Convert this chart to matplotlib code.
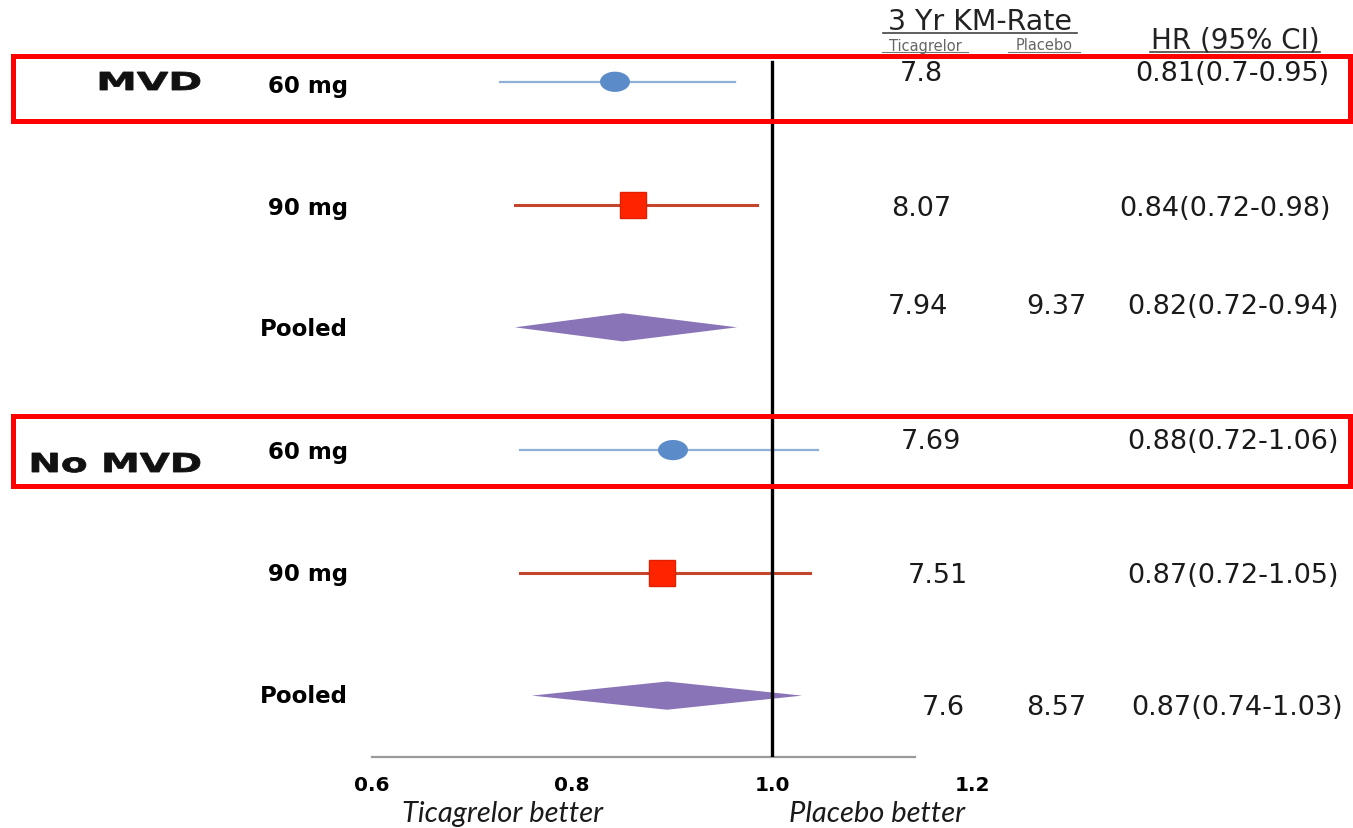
import matplotlib
matplotlib.use("Agg")
import matplotlib.pyplot as plt
from matplotlib.patches import Ellipse, Polygon, Rectangle, PathPatch
from matplotlib.lines import Line2D
from matplotlib.textpath import TextPath
from matplotlib.font_manager import FontProperties
from matplotlib.transforms import Affine2D, IdentityTransform

plt.rcParams["font.family"] = ["DejaVu Sans"]

# --- DATA ---
groups = ["MVD", "No MVD"]
doses = ["60 mg", "90 mg", "Pooled", "60 mg", "90 mg", "Pooled"]
kinds = ["60", "90", "pooled", "60", "90", "pooled"]
# marker positions as drawn in the figure
hr_point = [0.843, 0.861, 0.851, 0.901, 0.890, 0.895]
hr_low = [0.728, 0.743, 0.743, 0.748, 0.748, 0.760]
hr_high = [0.963, 0.985, 0.965, 1.046, 1.038, 1.030]
km_ticagrelor = ["7.8", "8.07", "7.94", "7.69", "7.51", "7.6"]
km_placebo = ["", "", "9.37", "", "", "8.57"]
hr_text = ["0.81(0.7-0.95)", "0.84(0.72-0.98)", "0.82(0.72-0.94)",
           "0.88(0.72-1.06)", "0.87(0.72-1.05)", "0.87(0.74-1.03)"]
x_ticks = [0.6, 0.8, 1.0, 1.2]

# --- LAYOUT (pixels of a 1353x829 canvas) ---
W, H = 1353, 829
tica_x = [921, 921, 918, 931, 938, 943]
text_y = [74, 209, 307, 442, 576, 708]
hr_x = [1232, 1225, 1233, 1233, 1233, 1237]
label_y = [87, 208, 330, 453, 575, 697]
placebo_x = 1056
# group label boxes: (left, right, top, baseline) in px
group_box = [(100, 200, 73, 91), (32, 200, 454, 473)]

COLORS = {
    "60": ("#8fb1d8", "#5b8cc9"),
    "90": ("#c2452c", "#ff2400"),
    "pooled": ("#8a74b8", "#8a74b8"),
}

def fx(px):
    return px / W

def fy(py):
    return 1 - py / H

def wide_text(fig, s, left, right, top, base):
    # bold text stretched to fill a pixel box (the original uses a wide face)
    tp = TextPath((0, 0), s, size=20, prop=FontProperties(family="DejaVu Sans", weight="bold"))
    ext = tp.get_extents()
    sx = (right - left) / ext.width
    sy = (base - top) / ext.ymax
    tr = Affine2D().translate(-ext.xmin, 0).scale(sx, sy).translate(left, H - base)
    fig.add_artist(PathPatch(tr.transform_path(tp), facecolor="#111111", edgecolor="#111111",
                             lw=0.6, transform=IdentityTransform()))

fig = plt.figure(figsize=(W / 100, H / 100), dpi=100)

# forest axes: x 0.6..1.2 from px 372 to 972, rows at px 83..697
ax = fig.add_axes([fx(372), fy(758), 600 / W, 701 / H])
ax.set_xlim(0.6, 1.2)
ax.set_ylim(5.50, -0.21)

for i, k in enumerate(kinds):
    line_c, mark_c = COLORS[k]
    if k == "pooled":
        ax.add_patch(Polygon([(hr_low[i], i), (hr_point[i], i - 0.115),
                              (hr_high[i], i), (hr_point[i], i + 0.115)],
                             closed=True, facecolor=mark_c, edgecolor="none", zorder=3))
    else:
        ax.plot([hr_low[i], hr_high[i]], [i, i], color=line_c,
                lw=1.6 if k == "60" else 2.2, zorder=2)
        if k == "60":
            ax.add_patch(Ellipse((hr_point[i], i), 0.030, 0.165,
                                 facecolor=mark_c, edgecolor="none", zorder=3))
        else:
            ax.plot(hr_point[i], i, marker="s", ms=19, color=mark_c,
                    markeredgecolor="#e02000", zorder=3)

ax.axvline(1.0, ymin=0, ymax=0.991, color="black", lw=2.4, zorder=4)

for s in ["top", "right", "left"]:
    ax.spines[s].set_visible(False)
ax.spines["bottom"].set_color("#9a9a9a")
ax.spines["bottom"].set_linewidth(1.6)
ax.spines["bottom"].set_bounds(0.6, 1.143)
ax.set_yticks([])
ax.set_xticks(x_ticks)
ax.set_xticklabels([f"{t:.1f}" for t in x_ticks], fontsize=14.5, fontweight="bold")
ax.tick_params(axis="x", length=0, pad=13)
ax.patch.set_alpha(0)

# axis captions
fig.text(fx(503), fy(822), "Ticagrelor better", fontsize=21, style="italic",
         family="Lato", ha="center", va="baseline", color="#1a1a1a")
fig.text(fx(877), fy(822), "Placebo better", fontsize=21, style="italic",
         family="Lato", ha="center", va="baseline", color="#1a1a1a")

# row labels
for i, d in enumerate(doses):
    fig.text(fx(348), fy(label_y[i]), d, fontsize=16.5,
             fontweight="bold", ha="right", va="center")
for g, box in zip(groups, group_box):
    wide_text(fig, g, *box)

# value columns
for i in range(len(doses)):
    fig.text(fx(tica_x[i]), fy(text_y[i]), km_ticagrelor[i], fontsize=19.5,
             ha="center", va="center", color="#1a1a1a")
    if km_placebo[i]:
        fig.text(fx(placebo_x), fy(text_y[i]), km_placebo[i], fontsize=19.5,
                 ha="center", va="center", color="#1a1a1a")
    fig.text(fx(hr_x[i]), fy(text_y[i]), hr_text[i], fontsize=19.5,
             ha="center", va="center", color="#1a1a1a")

# headers with underlines
fig.text(fx(980), fy(22), "3 Yr KM-Rate", fontsize=20.5, ha="center", va="center", color="#222222")
fig.add_artist(Line2D([fx(883), fx(1077)], [fy(34), fy(34)], color="#444444", lw=1.2))
fig.text(fx(925), fy(46), "Ticagrelor", fontsize=10.5, ha="center", va="center", color="#666666")
fig.text(fx(1044), fy(46), "Placebo", fontsize=10.5, ha="center", va="center", color="#666666")
fig.add_artist(Line2D([fx(882), fx(968)], [fy(53), fy(53)], color="#777777", lw=0.8))
fig.add_artist(Line2D([fx(1008), fx(1080)], [fy(53), fy(53)], color="#777777", lw=0.8))
fig.text(fx(1235), fy(41), "HR (95% CI)", fontsize=20, ha="center", va="center", color="#222222")
fig.add_artist(Line2D([fx(1150), fx(1320)], [fy(53), fy(53)], color="#444444", lw=1.2))

# red highlight boxes
for top, bottom in [(57, 122), (417, 487)]:
    fig.add_artist(Rectangle((fx(13), fy(bottom)), fx(1337), (bottom - top) / H,
                             fill=False, edgecolor="#ff0000", lw=3.6,
                             transform=fig.transFigure, zorder=5))

fig.savefig("out.png", dpi=100)
